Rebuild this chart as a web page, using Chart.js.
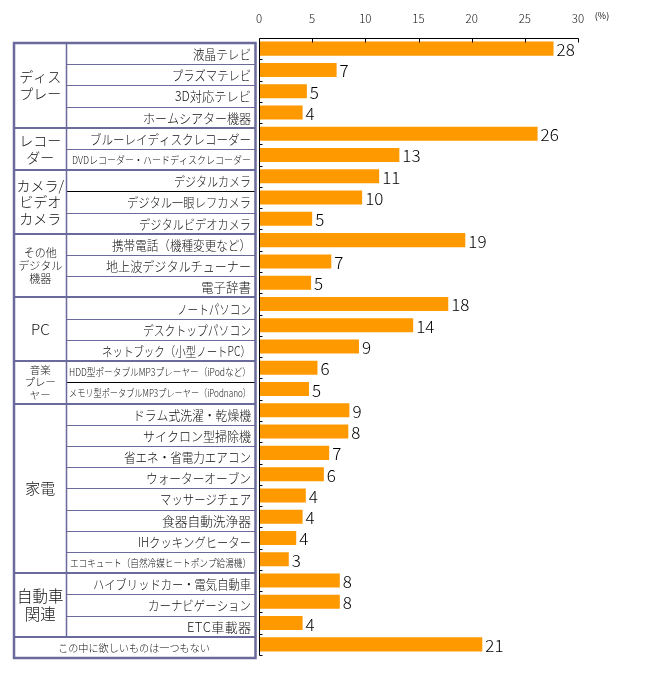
<!DOCTYPE html>
<html>
<head>
<meta charset="utf-8">
<script src="https://cdn.jsdelivr.net/npm/chart.js@4/dist/chart.umd.min.js"></script>
<style>
html,body{margin:0;padding:0;background:#fff;}
#wrap{position:relative;width:655px;height:680px;}
</style>
</head>
<body>
<div id="wrap"><canvas id="c"></canvas></div>
<script>
// ---- data ----
const categories = [
  '液晶テレビ','プラズマテレビ','3D対応テレビ','ホームシアター機器',
  'ブルーレイディスクレコーダー','DVDレコーダー・ハードディスクレコーダー',
  'デジタルカメラ','デジタル一眼レフカメラ','デジタルビデオカメラ',
  '携帯電話（機種変更など）','地上波デジタルチューナー','電子辞書',
  'ノートパソコン','デスクトップパソコン','ネットブック（小型ノートPC）',
  'HDD型ポータブルMP3プレーヤー（iPodなど）','メモリ型ポータブルMP3プレーヤー（iPodnano）',
  'ドラム式洗濯・乾燥機','サイクロン型掃除機','省エネ・省電力エアコン','ウォーターオーブン',
  'マッサージチェア','食器自動洗浄器','IHクッキングヒーター','エコキュート（自然冷媒ヒートポンプ給湯機）',
  'ハイブリッドカー・電気自動車','カーナビゲーション','ETC車載器',
  'この中に欲しいものは一つもない'
];
const values = [27.7,7.3,4.5,4.1,26.2,13.2,11.3,9.7,5.0,19.4,6.8,4.9,17.8,14.5,9.4,5.5,4.7,8.5,8.4,6.6,6.1,4.4,4.1,3.5,2.8,7.6,7.6,4.1,21.0];
const valueLabels = ['28','7','5','4','26','13','11','10','5','19','7','5','18','14','9','6','5','9','8','7','6','4','4','4','3','8','8','4','21'];
const groupNames = ['ディス\nプレー','レコー\nダー','カメラ/\nビデオ\nカメラ','その他\nデジタル\n機器','PC','音楽\nプレー\nヤー','家電','自動車\n関連',''];
const groupSizes = [4,2,3,3,3,2,8,3,1];
const xTicks = [0,5,10,15,20,25,30];
const unitLabel = '(%)';

// ---- styles / layout ----
const FONT = '"Noto Sans CJK JP", "Noto Sans", sans-serif';
const BAR_COLOR = '#FF9900';
const TABLE_COLOR = '#6a6a9c';
const groupFontSizes = [14,14,14,11,15,10.5,15,15.5,10];
const itemFont = {5:10.5, 15:10, 16:10, 24:10.5};
const itemLeft = [193,172,175,143,90,72,174,127,139,112,106,201,177,143,102,69,69,133,143,124,146,160,162,138,70,93,148,187];
const itemRight = 251;
const blackLines = [7,16];

function drawSpread(ctx, text, left, right, y){
  const chars = Array.from(text);
  const widths = chars.map(c=>ctx.measureText(c).width);
  const natural = widths.reduce((a,b)=>a+b,0);
  const target = right - left;
  if(natural >= target || chars.length < 2){
    ctx.textAlign = 'right';
    ctx.fillText(text, right, y, target);
    return;
  }
  const gap = (target - natural)/(chars.length-1);
  let x = left;
  ctx.textAlign = 'left';
  chars.forEach((c,i)=>{ ctx.fillText(c, x, y); x += widths[i] + gap; });
}

const overlay = {
  id:'overlay',
  afterDatasetsDraw(chart){
    const ctx = chart.ctx;
    const xs = chart.scales.x;
    const ca = chart.chartArea;
    ctx.save();
    // value labels
    const meta = chart.getDatasetMeta(0);
    ctx.font = '300 17px ' + FONT;
    ctx.fillStyle = '#000';
    ctx.textAlign = 'left';
    ctx.textBaseline = 'middle';
    meta.data.forEach((bar,i)=>{
      ctx.fillText(valueLabels[i], bar.x + 3, bar.y + 1);
    });
    // axes
    ctx.strokeStyle = '#000';
    ctx.lineWidth = 1;
    ctx.beginPath();
    const x0 = Math.round(xs.getPixelForValue(0)) + 0.5;
    const ty = Math.round(ca.top) + 0.5;
    ctx.moveTo(x0, ty); ctx.lineTo(Math.round(xs.getPixelForValue(30))+0.5, ty);
    ctx.moveTo(x0, ty); ctx.lineTo(x0, Math.round(ca.bottom)+0.5);
    xTicks.forEach(v=>{
      const px = Math.round(xs.getPixelForValue(v))+0.5;
      ctx.moveTo(px, ty); ctx.lineTo(px, ty+4);
    });
    for(let i=1;i<=categories.length;i++){
      const py = Math.round(ca.top + i*(ca.bottom-ca.top)/categories.length)+0.5;
      ctx.moveTo(x0, py); ctx.lineTo(x0+3, py);
    }
    ctx.stroke();
    // tick labels
    ctx.font = '300 11.5px ' + FONT;
    ctx.fillStyle = '#111';
    ctx.textAlign = 'center';
    ctx.textBaseline = 'middle';
    xTicks.forEach(v=>{
      ctx.fillText(String(v), xs.getPixelForValue(v), 19);
    });
    ctx.font = '9px ' + FONT;
    ctx.fillText(unitLabel, xs.getPixelForValue(30)+24, 16);

    // table
    const tL = 14, tR = 255.5, tDiv = 66.5;
    const tTop = ca.top + 5, tBot = ca.bottom + 3;
    const n = categories.length;
    const rh = (tBot - tTop)/n;
    const rowY = i => tTop + i*rh;
    let start = 0;
    const groupStarts = [];
    groupSizes.forEach(s=>{ groupStarts.push(start); start += s; });
    for(let i=1;i<n;i++){
      if(groupStarts.includes(i)) continue;
      ctx.beginPath();
      ctx.strokeStyle = blackLines.includes(i) ? '#000' : TABLE_COLOR;
      ctx.lineWidth = 1;
      const y = Math.round(rowY(i))+0.5;
      ctx.moveTo(tDiv, y); ctx.lineTo(tR, y);
      ctx.stroke();
    }
    ctx.strokeStyle = TABLE_COLOR;
    ctx.lineWidth = 2;
    groupStarts.forEach(gs=>{
      if(gs===0) return;
      ctx.beginPath();
      const y = Math.round(rowY(gs));
      ctx.moveTo(tL, y); ctx.lineTo(tR, y);
      ctx.stroke();
    });
    ctx.lineWidth = 1.5;
    ctx.beginPath();
    ctx.moveTo(tDiv, tTop); ctx.lineTo(tDiv, rowY(n-1));
    ctx.stroke();
    ctx.lineWidth = 2.5;
    ctx.strokeRect(tL, tTop, tR - tL, tBot - tTop);

    // group labels
    ctx.fillStyle = '#111';
    ctx.textAlign = 'center';
    ctx.textBaseline = 'middle';
    groupNames.forEach((g,gi)=>{
      if(!g) return;
      const gs = groupStarts[gi], ge = gs + groupSizes[gi];
      const cy = (rowY(gs)+rowY(ge))/2;
      const fs = groupFontSizes[gi];
      ctx.font = '300 ' + fs + 'px ' + FONT;
      const lines = g.split('\n');
      const lh = fs*1.2;
      lines.forEach((ln,li)=>{
        ctx.fillText(ln, (tL+tDiv)/2, cy + (li-(lines.length-1)/2)*lh);
      });
    });
    // item labels
    for(let i=0;i<n-1;i++){
      const fs = itemFont[i] || 13;
      ctx.font = '300 ' + fs + 'px ' + FONT;
      const cy = (rowY(i)+rowY(i+1))/2 + 0.5;
      drawSpread(ctx, categories[i], itemLeft[i], itemRight, cy);
    }
    // last row spanning both columns
    ctx.font = '300 10.5px ' + FONT;
    drawSpread(ctx, categories[n-1], 58, 210, (rowY(n-1)+rowY(n))/2 + 0.5);
    ctx.restore();
  }
};

new Chart(document.getElementById('c'), {
  type:'bar',
  data:{
    labels: categories,
    datasets:[{
      data: values,
      backgroundColor: BAR_COLOR,
      borderWidth:0,
      barPercentage:0.66,
      categoryPercentage:1.0
    }]
  },
  options:{
    indexAxis:'y',
    responsive:true,
    maintainAspectRatio:false,
    animation:false,
    layout:{padding:{left:259, right:77, top:38, bottom:25}},
    plugins:{legend:{display:false}, tooltip:{enabled:false}},
    scales:{
      x:{display:false, min:0, max:30},
      y:{display:false}
    }
  },
  plugins:[overlay]
});
</script>
</body>
</html>
